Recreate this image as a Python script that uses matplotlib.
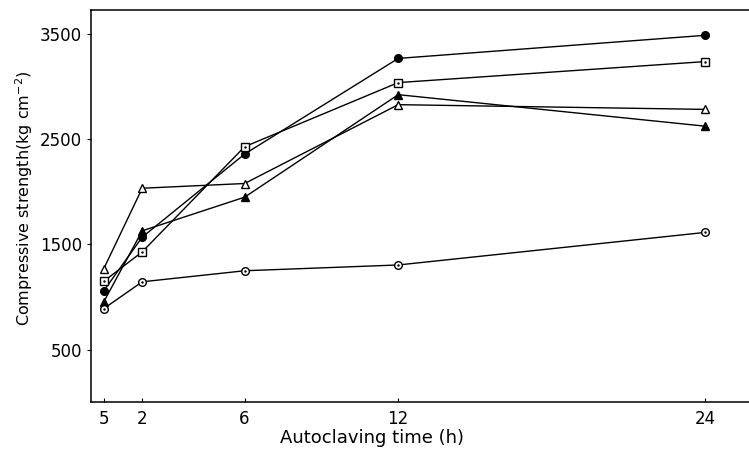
import matplotlib.pyplot as plt
import numpy as np

# Autoclaving time (h) and compressive strength (kg cm^-2)
hours = [0.5, 2, 6, 12, 24]
filled_circle = [1060, 1570, 2360, 3270, 3490]
open_square = [1150, 1430, 2430, 3040, 3240]
open_triangle = [1270, 2035, 2080, 2830, 2785]
filled_triangle = [955, 1630, 1950, 2925, 2625]
open_circle = [890, 1145, 1250, 1305, 1615]

xtick_pos = [0.5, 2, 6, 12, 24]
xtick_labels = ['5', '2', '6', '12', '24']
ytick_pos = [500, 1500, 2500, 3500]

fig = plt.figure(figsize=(7.49, 4.57), dpi=100)
ax = fig.add_axes([0.1215, 0.12, 0.8785, 0.858])

kw = dict(color='black', lw=1.0, markeredgecolor='black', markeredgewidth=1.0)
ax.plot(hours, filled_circle, marker='o', markersize=5.5, markerfacecolor='black', **kw)
ax.plot(hours, open_square, marker='s', markersize=6, markerfacecolor='white', **kw)
ax.plot(hours, open_triangle, marker='^', markersize=6, markerfacecolor='white', **kw)
ax.plot(hours, filled_triangle, marker='^', markersize=6, markerfacecolor='black', **kw)
ax.plot(hours, open_circle, marker='o', markersize=5.5, markerfacecolor='white', **kw)
# little dots in the middle of the open square and circle
ax.plot(hours, open_square, ls='none', marker='.', markersize=1.5, color='black')
ax.plot(hours, open_circle, ls='none', marker='.', markersize=1.5, color='black')

ax.set_xlim(0, 25.7)
ax.set_ylim(0, 3730)
ax.set_xticks(xtick_pos)
ax.set_xticklabels(xtick_labels)
ax.set_yticks(ytick_pos)
ax.tick_params(axis='both', labelsize=12, direction='out', length=3, width=0.8)
ax.tick_params(axis='x', direction='in', pad=6)

ax.spines['right'].set_visible(False)
for s in ['left', 'top', 'bottom']:
    ax.spines[s].set_linewidth(1.1)

ax.set_xlabel('Autoclaving time (h)', fontsize=13)
ax.xaxis.set_label_coords(0.427, -0.068)
ax.set_ylabel('Compressive strength(kg cm$^{-2}$)', fontsize=11.5)
ax.yaxis.set_label_coords(-0.085, 0.52)

fig.savefig('out.png', dpi=100)
